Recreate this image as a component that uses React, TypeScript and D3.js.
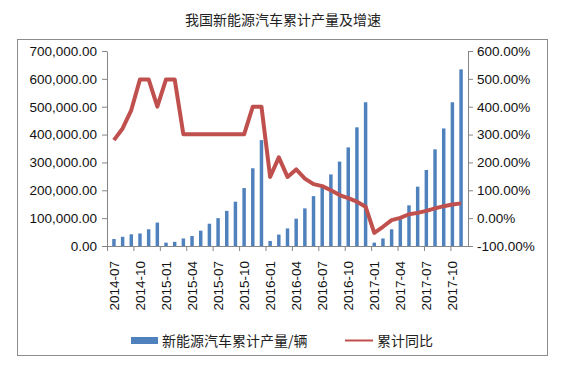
import { useEffect, useRef } from "react";
import * as d3 from "d3";

// monthly categories 2014-07 .. 2017-11
const months = [
  "2014-07", "2014-08", "2014-09", "2014-10", "2014-11", "2014-12",
  "2015-01", "2015-02", "2015-03", "2015-04", "2015-05", "2015-06",
  "2015-07", "2015-08", "2015-09", "2015-10", "2015-11", "2015-12",
  "2016-01", "2016-02", "2016-03", "2016-04", "2016-05", "2016-06",
  "2016-07", "2016-08", "2016-09", "2016-10", "2016-11", "2016-12",
  "2017-01", "2017-02", "2017-03", "2017-04", "2017-05", "2017-06",
  "2017-07", "2017-08", "2017-09", "2017-10", "2017-11",
];

// cumulative output (vehicles)
const output = [
  25000, 33000, 42000, 45000, 60000, 84000,
  12000, 15000, 27000, 36000, 55000, 80000,
  100000, 126000, 159000, 208000, 279000, 380000,
  18000, 41000, 63000, 98000, 135000, 179000,
  215000, 257000, 303000, 354000, 426000, 516000,
  12000, 27000, 60000, 96000, 146000, 213000,
  273000, 347000, 422000, 516000, 634000,
];

// cumulative y/y growth (%)
const growth = [
  280, 322, 388, 498, 498, 400,
  498, 498, 301, 301, 301, 301,
  301, 301, 301, 301, 400, 400,
  148, 218, 148, 175, 142, 122,
  115, 100, 83, 72, 59, 41,
  -53, -31, -7, 1, 14, 19,
  26, 35, 43, 49, 53,
];

const leftTicks = [0, 100000, 200000, 300000, 400000, 500000, 600000, 700000];
const rightTicks = [-100, 0, 100, 200, 300, 400, 500, 600];

const title = "我国新能源汽车累计产量及增速";
const barName = "新能源汽车累计产量/辆";
const lineName = "累计同比";

const App = () => {
  const ref = useRef<SVGSVGElement>(null);

  useEffect(() => {
    const w = 565;
    const h = 371;
    const left = 107;
    const right = 468;
    const top = 51;
    const bottom = 246;
    const font = "'Liberation Sans', Arial, sans-serif";
    const cjk = "'Noto Sans CJK SC', sans-serif";
    const axisColor = "#868686";

    const svg = d3.select(ref.current).attr("width", w).attr("height", h);
    svg.selectAll("*").remove();

    svg.append("rect").attr("width", w).attr("height", h).attr("fill", "#fff");

    // outer frame
    svg
      .append("rect")
      .attr("x", 17.5)
      .attr("y", 39.5)
      .attr("width", 530)
      .attr("height", 316)
      .attr("fill", "none")
      .attr("stroke", "#8c8c8c");

    svg
      .append("text")
      .attr("x", 283)
      .attr("y", 25)
      .attr("text-anchor", "middle")
      .style("font-family", cjk)
      .style("font-size", "14px")
      .attr("fill", "#222")
      .text(title);

    const x = d3.scaleBand<string>().domain(months).range([left, right]).padding(0.6);
    const xi = d3.scaleLinear().domain([0, months.length]).range([left, right]);
    const yL = d3.scaleLinear().domain([0, 700000]).range([bottom, top]);
    const yR = d3.scaleLinear().domain([-100, 600]).range([bottom, top]);

    // bars
    svg
      .append("g")
      .selectAll("rect")
      .data(output)
      .join("rect")
      .attr("x", (_, i) => x(months[i])!)
      .attr("y", (d) => yL(d))
      .attr("width", x.bandwidth())
      .attr("height", (d) => bottom - yL(d))
      .attr("fill", "#4f81bd");

    // left axis
    const gL = svg
      .append("g")
      .attr("transform", `translate(${left},0)`)
      .call(
        d3.axisLeft(yL).tickValues(leftTicks).tickSize(5).tickSizeOuter(0).tickPadding(5)
          .tickFormat((d) => d3.format(",.2f")(d as number))
      );
    // right axis
    const gR = svg
      .append("g")
      .attr("transform", `translate(${right},0)`)
      .call(
        d3.axisRight(yR).tickValues(rightTicks).tickSize(5).tickSizeOuter(0).tickPadding(4)
          .tickFormat((d) => (d as number).toFixed(2) + "%")
      );
    // bottom axis ticks at category boundaries
    const gB = svg
      .append("g")
      .attr("transform", `translate(0,${bottom})`)
      .call(
        d3.axisBottom(xi).tickValues(d3.range(0, months.length + 1, 3)).tickSize(5).tickSizeOuter(0)
          .tickFormat(() => "")
      );
    svg
      .append("line")
      .attr("x1", left)
      .attr("x2", right)
      .attr("y1", bottom + 0.5)
      .attr("y2", bottom + 0.5)
      .attr("stroke", axisColor);

    [gL, gR, gB].forEach((g) => {
      g.select(".domain").attr("stroke", axisColor);
      g.selectAll(".tick line").attr("stroke", axisColor);
      g.selectAll("text")
        .style("font-family", font)
        .style("font-size", "13.5px")
        .attr("fill", "#111");
    });

    // rotated month labels, every third month
    svg
      .append("g")
      .selectAll("text")
      .data(months.filter((_, i) => i % 3 === 0))
      .join("text")
      .attr("transform", (d) => `translate(${x(d)! + x.bandwidth() / 2},${bottom + 15}) rotate(-90)`)
      .attr("text-anchor", "end")
      .attr("dy", "0.35em")
      .style("font-family", font)
      .style("font-size", "13.5px")
      .attr("fill", "#111")
      .text((d) => d);

    // growth line
    const line = d3
      .line<number>()
      .x((_, i) => x(months[i])! + x.bandwidth() / 2)
      .y((d) => yR(d));
    svg
      .append("path")
      .datum(growth)
      .attr("d", line)
      .attr("fill", "none")
      .attr("stroke", "#c0504d")
      .attr("stroke-width", 4)
      .attr("stroke-linejoin", "round");

    // legend
    const lg = svg.append("g");
    lg.append("rect").attr("x", 131).attr("y", 337).attr("width", 27).attr("height", 7).attr("fill", "#4f81bd");
    lg.append("text")
      .attr("x", 162)
      .attr("y", 341)
      .attr("dy", "0.35em")
      .style("font-family", cjk)
      .style("font-size", "14px")
      .attr("fill", "#222")
      .text(barName);
    lg.append("line")
      .attr("x1", 345)
      .attr("x2", 373)
      .attr("y1", 340.5)
      .attr("y2", 340.5)
      .attr("stroke", "#c0504d")
      .attr("stroke-width", 2);
    lg.append("text")
      .attr("x", 377)
      .attr("y", 341)
      .attr("dy", "0.35em")
      .style("font-family", cjk)
      .style("font-size", "14px")
      .attr("fill", "#222")
      .text(lineName);
  }, []);

  return <svg ref={ref} style={{ position: "absolute", left: 0, top: 0 }}></svg>;
};

export default App;
